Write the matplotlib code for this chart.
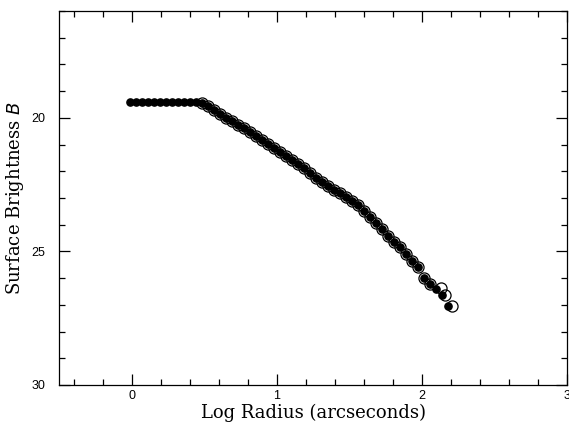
import matplotlib
matplotlib.use("Agg")
import matplotlib.pyplot as plt
from matplotlib.ticker import MultipleLocator

# log radius (arcsec) and surface brightness
log_r_filled = [-0.015, 0.026, 0.068, 0.109, 0.151, 0.192, 0.233, 0.275, 0.316, 0.358,
                0.399, 0.440, 0.482, 0.523, 0.565, 0.606, 0.647, 0.689, 0.730, 0.772,
                0.813, 0.854, 0.896, 0.937, 0.979, 1.020, 1.061, 1.103, 1.144, 1.186,
                1.227, 1.268, 1.310, 1.351, 1.393, 1.434, 1.475, 1.517, 1.558, 1.600,
                1.641, 1.682, 1.724, 1.765, 1.807, 1.848, 1.889, 1.931, 1.972, 2.014,
                2.055, 2.096, 2.138, 2.179]
mag_filled = [19.40, 19.40, 19.40, 19.40, 19.40, 19.40, 19.40, 19.40, 19.40, 19.40,
              19.40, 19.40, 19.46, 19.57, 19.70, 19.85, 20.00, 20.11, 20.26, 20.37,
              20.52, 20.67, 20.82, 20.99, 21.12, 21.29, 21.42, 21.57, 21.72, 21.87,
              22.06, 22.24, 22.39, 22.54, 22.69, 22.80, 22.95, 23.10, 23.25, 23.48,
              23.70, 23.93, 24.15, 24.41, 24.64, 24.82, 25.08, 25.35, 25.57, 25.98,
              26.21, 26.39, 26.62, 27.03]

log_r_open = [0.482, 0.523, 0.565, 0.606, 0.647, 0.689, 0.730, 0.772, 0.813, 0.854,
              0.896, 0.937, 0.979, 1.020, 1.061, 1.103, 1.144, 1.186, 1.227, 1.268,
              1.310, 1.351, 1.393, 1.434, 1.475, 1.517, 1.558, 1.600, 1.641, 1.682,
              1.724, 1.765, 1.807, 1.848, 1.889, 1.931, 1.972, 2.014, 2.055, 2.133,
              2.161, 2.209]
mag_open = [19.46, 19.57, 19.70, 19.85, 20.00, 20.11, 20.26, 20.37, 20.52, 20.67,
            20.82, 20.99, 21.12, 21.29, 21.42, 21.57, 21.72, 21.87, 22.06, 22.24,
            22.39, 22.54, 22.69, 22.80, 22.95, 23.10, 23.25, 23.48, 23.70, 23.93,
            24.15, 24.41, 24.64, 24.82, 25.08, 25.35, 25.57, 25.98, 26.21, 26.36,
            26.62, 27.03]

fig = plt.figure(figsize=(5.69, 4.23), dpi=100)
ax = fig.add_axes([0.104, 0.090, 0.893, 0.884])

ax.plot(log_r_open, mag_open, "o", ms=8, mfc="none", mec="black", mew=0.9)
ax.plot(log_r_filled, mag_filled, "o", ms=5.2, color="black", mec="black")

ax.set_xlim(-0.5, 3)
ax.set_ylim(30, 16)
ax.xaxis.set_major_locator(MultipleLocator(1))
ax.xaxis.set_minor_locator(MultipleLocator(0.2))
ax.yaxis.set_major_locator(MultipleLocator(5))
ax.yaxis.set_minor_locator(MultipleLocator(1))
ax.tick_params(which="both", direction="in", top=True, right=True, width=0.9)
ax.tick_params(which="major", length=8)
ax.tick_params(which="minor", length=4)
ax.tick_params(axis="x", pad=4)
ax.tick_params(axis="y", pad=10)
for lbl in ax.get_xticklabels() + ax.get_yticklabels():
    lbl.set_fontfamily("Liberation Sans")
    lbl.set_fontsize(9)
for sp in ax.spines.values():
    sp.set_linewidth(0.9)

ax.set_xlabel("Log Radius (arcseconds)", family="DejaVu Serif", fontsize=13, labelpad=1)
ax.set_ylabel("Surface Brightness $B$", family="DejaVu Serif", fontsize=13, labelpad=4)

fig.savefig("out.png", dpi=100)
